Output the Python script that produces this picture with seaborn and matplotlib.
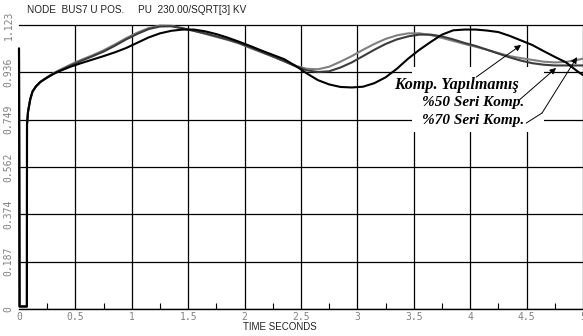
import numpy as np
import pandas as pd
import matplotlib
matplotlib.use("Agg")
import matplotlib.pyplot as plt
from matplotlib.patches import Rectangle
import seaborn as sns

# ---- data ----
time_s = [0.0, 0.005, 0.07, 0.071, 0.08, 0.10, 0.12, 0.15, 0.19, 0.25, 0.30, 0.34,
          0.45, 0.55, 0.65, 0.75, 0.85, 0.95, 1.05, 1.15, 1.25, 1.35, 1.45, 1.55,
          1.65, 1.75, 1.85, 1.95, 2.05, 2.15, 2.25, 2.35, 2.45, 2.55, 2.65, 2.75,
          2.85, 2.95, 3.05, 3.15, 3.25, 3.35, 3.45, 3.55, 3.65, 3.75, 3.85, 3.95,
          4.05, 4.15, 4.25, 4.35, 4.45, 4.55, 4.65, 4.75, 4.85, 4.95, 5.0]

komp_yok = [1.03, 0.01, 0.01, 0.73, 0.78, 0.83, 0.86, 0.88, 0.898, 0.915, 0.928, 0.937,
            0.957, 0.972, 0.986, 1.0, 1.015, 1.032, 1.053, 1.074, 1.09, 1.10, 1.105, 1.105,
            1.098, 1.087, 1.073, 1.057, 1.04, 1.022, 1.005, 0.988, 0.962, 0.932, 0.905, 0.888,
            0.878, 0.876, 0.879, 0.893, 0.916, 0.95, 0.99, 1.025, 1.056, 1.085, 1.102, 1.105,
            1.105, 1.101, 1.095, 1.08, 1.062, 1.044, 1.02, 0.997, 0.975, 0.94, 0.925]

seri_50 = [1.03, 0.01, 0.01, 0.73, 0.78, 0.83, 0.86, 0.88, 0.898, 0.916, 0.929, 0.938,
           0.961, 0.981, 0.999, 1.018, 1.041, 1.066, 1.088, 1.107, 1.117, 1.118, 1.11, 1.10,
           1.09, 1.078, 1.066, 1.052, 1.035, 1.017, 0.999, 0.98, 0.96, 0.944, 0.937, 0.94,
           0.955, 0.975, 1.0, 1.025, 1.048, 1.066, 1.078, 1.085, 1.085, 1.078, 1.066, 1.052,
           1.04, 1.025, 1.01, 0.995, 0.982, 0.972, 0.966, 0.963, 0.963, 0.963, 0.963]

seri_70 = [1.03, 0.01, 0.01, 0.73, 0.78, 0.83, 0.86, 0.88, 0.898, 0.917, 0.931, 0.941,
           0.965, 0.985, 1.003, 1.023, 1.046, 1.071, 1.093, 1.111, 1.121, 1.12, 1.11, 1.10,
           1.088, 1.076, 1.064, 1.05, 1.032, 1.015, 0.998, 0.98, 0.962, 0.95, 0.948, 0.958,
           0.978, 1.0, 1.025, 1.048, 1.068, 1.082, 1.09, 1.09, 1.083, 1.072, 1.06, 1.048,
           1.037, 1.025, 1.012, 1.0, 0.992, 0.985, 0.978, 0.975, 0.977, 0.985, 0.99]

series_names = ["Komp. Yapılmamış", "%50 Seri Komp.", "%70 Seri Komp."]
x_ticks = [0, 0.5, 1, 1.5, 2, 2.5, 3, 3.5, 4, 4.5, 5]
x_tick_labels = ["0", "0.5", "1", "1.5", "2", "2.5", "3", "3.5", "4", "4.5", "5"]
y_ticks = [0, 0.187, 0.374, 0.562, 0.749, 0.936, 1.123]
y_tick_labels = ["0", "0.187", "0.374", "0.562", "0.749", "0.936", "1.123"]
title_text = "NODE  BUS7 U POS.     PU  230.00/SQRT[3] KV"
x_label = "TIME SECONDS"

df = pd.concat([
    pd.DataFrame({"t": time_s, "v": vals, "s": name})
    for name, vals in zip(series_names, [komp_yok, seri_50, seri_70])
])

sns.set_style("white")
plt.rcParams["font.family"] = ["DejaVu Sans"]

fig = plt.figure(figsize=(5.83, 3.36), dpi=100)
ax = fig.add_axes([19 / 583, 27 / 336, 1 - 19 / 583, (309 - 25) / 336])

palette = {series_names[0]: "#000000", series_names[1]: "#3c3c3c", series_names[2]: "#808080"}
sns.lineplot(data=df, x="t", y="v", hue="s", units="s", estimator=None, sort=False,
             palette=palette, hue_order=[series_names[2], series_names[1], series_names[0]],
             linewidth=1.5, legend=False, ax=ax)
for ln in ax.lines:
    ln.set_clip_on(False)
    ln.set_zorder(3)

ax.set_xlim(0, 5)
ax.set_ylim(0, 1.123)
ax.set_xticks(x_ticks)
ax.set_xticklabels(x_tick_labels, family="DejaVu Sans Mono", fontsize=7, color="#808080")
ax.set_yticks(y_ticks)
ax.set_yticklabels(y_tick_labels, family="DejaVu Sans Mono", fontsize=7, color="#808080",
                   rotation=90, va="center")
ax.set_xticks(np.arange(0.25, 5, 0.5), minor=True)
ax.tick_params(axis="x", which="major", length=0, pad=2)
ax.tick_params(axis="y", which="major", length=0, pad=4)
ax.tick_params(axis="x", which="minor", direction="in", length=4, width=0.8, color="black", bottom=True)
ax.set_xlabel("")
ax.set_ylabel("")

ax.grid(True, color="black", linewidth=0.9)
ax.set_axisbelow(True)
ax.get_xgridlines()[0].set_visible(False)
ax.get_ygridlines()[-1].set_visible(False)

for side in ["left", "right"]:
    ax.spines[side].set_visible(False)
ax.spines["bottom"].set_color("black")
ax.spines["bottom"].set_linewidth(1.0)
ax.spines["top"].set_color("black")
ax.spines["top"].set_linewidth(0.9)

# white area behind the labels
ax.add_patch(Rectangle((3.48, 0.700), 1.175, 0.255, facecolor="white", edgecolor="none", zorder=1.5))

lab_font = dict(family="Liberation Serif", style="italic", weight="bold", color="black")
ax.text(3.327, 0.886, series_names[0], ha="left", va="center", zorder=4, fontsize=11.6,
        bbox=dict(facecolor="white", edgecolor="none", pad=1.0), **lab_font)
ax.text(3.575, 0.815, series_names[1], ha="left", va="center", zorder=4, fontsize=11, **lab_font)
ax.text(3.575, 0.747, series_names[2], ha="left", va="center", zorder=4, fontsize=11, **lab_font)

arr = dict(arrowstyle="-|>", lw=0.7, color="black", mutation_scale=9, shrinkA=0, shrinkB=0)
seg = dict(arrowstyle="-", lw=0.7, color="black", shrinkA=0, shrinkB=0)
ax.annotate("", xy=(4.451, 1.044), xytext=(4.053, 0.917), arrowprops=arr, zorder=5)
ax.annotate("", xy=(4.761, 0.953), xytext=(4.434, 0.826), arrowprops=arr, zorder=5)
ax.annotate("", xy=(4.637, 0.775), xytext=(4.496, 0.735), arrowprops=seg, zorder=5)
ax.annotate("", xy=(4.947, 0.996), xytext=(4.637, 0.775), arrowprops=arr, zorder=5)

fig.text(27 / 583, 1 - 10 / 336, title_text, family="Liberation Sans", fontsize=7.2,
         color="#222222", ha="left", va="center")
fig.text(243 / 583, 1 - 327 / 336, x_label, family="Liberation Sans", fontsize=7,
         color="#222222", ha="left", va="center")

fig.savefig("out.png", dpi=100)
